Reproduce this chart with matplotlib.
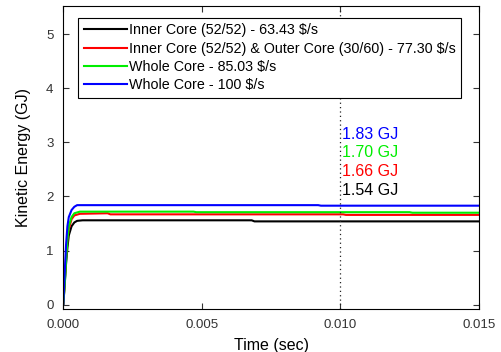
import matplotlib
matplotlib.use("Agg")
import matplotlib.pyplot as plt

plt.rcParams["font.family"] = ["Liberation Sans", "DejaVu Sans"]

# ---------------------------------------------------------------- data (GJ)
t_black = [0.0, 0.00005, 0.0001, 0.00015, 0.0002, 0.0003, 0.0004, 0.0005, 0.0007, 0.0068, 0.0069, 0.015]
e_black = [0.0, 0.35, 0.75, 1.05, 1.28, 1.45, 1.52, 1.55, 1.56, 1.56, 1.54, 1.54]

t_red = [0.0, 0.00005, 0.0001, 0.00015, 0.0002, 0.0003, 0.0004, 0.0006, 0.0016, 0.0017, 0.0101, 0.0102, 0.015]
e_red = [0.0, 0.4, 0.85, 1.2, 1.4, 1.58, 1.65, 1.68, 1.69, 1.67, 1.67, 1.66, 1.66]

t_green = [0.0, 0.00005, 0.0001, 0.00015, 0.0002, 0.0003, 0.0004, 0.0006, 0.0047, 0.0048, 0.0125, 0.0126, 0.015]
e_green = [0.0, 0.35, 0.8, 1.2, 1.45, 1.62, 1.69, 1.72, 1.72, 1.71, 1.71, 1.70, 1.70]

t_blue = [0.0, 0.00005, 0.0001, 0.00015, 0.0002, 0.0003, 0.0004, 0.0005, 0.0092, 0.0093, 0.015]
e_blue = [0.0, 0.55, 1.1, 1.45, 1.62, 1.75, 1.81, 1.84, 1.84, 1.83, 1.83]

labels = ["Inner Core (52/52) - 63.43 $/s",
          "Inner Core (52/52) & Outer Core (30/60) - 77.30 $/s",
          "Whole Core - 85.03 $/s",
          "Whole Core - 100 $/s"]
colors = ["black", "red", "#00ee00", "blue"]
notes = ["1.54 GJ", "1.66 GJ", "1.70 GJ", "1.83 GJ"]
note_y = [2.11, 2.46, 2.82, 3.15]
t_mark = 0.010

# ---------------------------------------------------------------- plot
fig = plt.figure(figsize=(5.02, 3.52), dpi=100)
ax = fig.add_axes([0.126, 0.122, 0.828, 0.861])

series = [(t_black, e_black), (t_red, e_red), (t_green, e_green), (t_blue, e_blue)]
for (t, e), lab, c in zip(series, labels, colors):
    ax.plot(t, e, color=c, lw=1.5, label=lab)

ax.axvline(t_mark, color="#222222", ls=(0, (1, 2.5)), lw=0.9)
for txt, y, c in zip(notes, note_y, colors):
    ax.text(t_mark + 0.00005, y, txt, color=c, fontsize=11.5, ha="left", va="center")

ax.set_xlim(0, 0.015)
ax.set_ylim(-0.08, 5.52)
ax.set_xticks([0.0, 0.005, 0.010, 0.015])
ax.set_xticklabels(["0.000", "0.005", "0.010", "0.015"])
ax.set_yticks([0, 1, 2, 3, 4, 5])
ax.tick_params(direction="in", top=True, right=True, labelsize=9.5,
               colors="#333333", labelcolor="#333333", length=4, pad=7)
for sp in ax.spines.values():
    sp.set_linewidth(0.8)

ax.set_xlabel("Time (sec)", fontsize=11.5, labelpad=5)
ax.set_ylabel("Kinetic Energy (GJ)", fontsize=11.5, labelpad=11)

leg = ax.legend(loc="upper left", bbox_to_anchor=(0.036, 0.962), fontsize=10.3,
                fancybox=False, edgecolor="black", framealpha=1,
                handlelength=3.0, handletextpad=0.15, borderpad=0.4,
                labelspacing=0.3, borderaxespad=0)
leg.get_frame().set_linewidth(0.8)

fig.savefig("out.png", dpi=100)
